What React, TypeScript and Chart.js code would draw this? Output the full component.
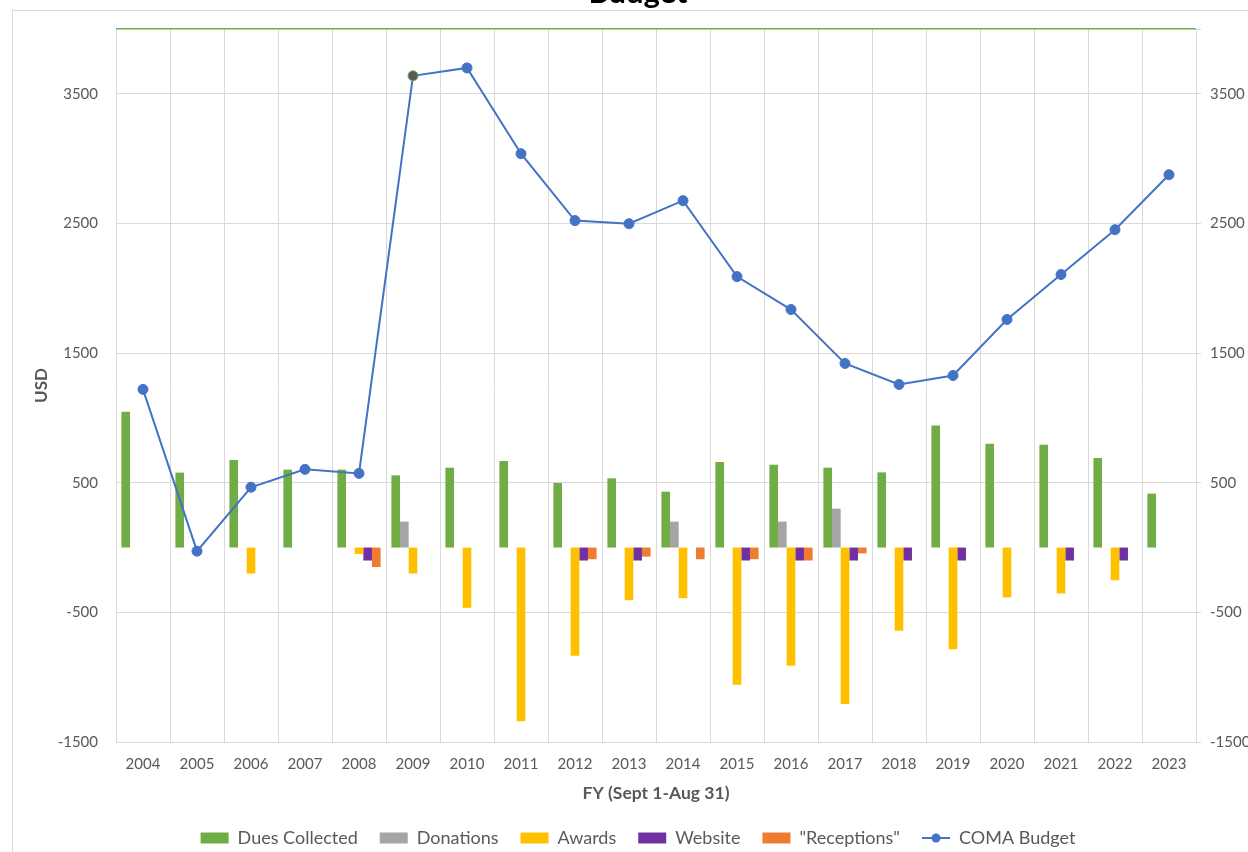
import React, { useEffect, useRef } from 'react';
import { Chart, registerables } from 'chart.js';

Chart.register(...registerables);

const years = ['2004', '2005', '2006', '2007', '2008', '2009', '2010', '2011', '2012', '2013', '2014', '2015', '2016', '2017', '2018', '2019', '2020', '2021', '2022', '2023'];
const duesCollected = [1047, 578, 675, 601, 601, 557, 616, 667, 498, 534, 431, 660, 639, 616, 580, 942, 801, 793, 690, 416];
const donations = [null, null, null, null, null, 200, null, null, null, null, 200, null, 200, 300, null, null, null, null, null, null];
const awards = [null, null, -200, null, -50, -200, -465, -1340, -835, -406, -391, -1058, -912, -1207, -642, -784, -385, -354, -252, null];
const website = [null, null, null, null, -100, null, null, null, -100, -100, null, -100, -100, -100, -100, -100, null, -100, -100, null];
const receptions = [null, null, null, null, -150, null, null, null, -90, -70, -90, -90, -100, -45, null, null, null, null, null, null];
const comaBudget = [1220, -28, 465, 603, 572, 3639, 3700, 3038, 2522, 2498, 2676, 2090, 1836, 1420, 1258, 1327, 1759, 2106, 2452, 2876];
const yTickValues = [-1500, -500, 500, 1500, 2500, 3500, 4000];
const Y_MIN = -1500;
const Y_MAX = 4000;

const GRID = '#d9d9d9';
const TEXT = '#595959';
const FONT = 'Lato, "Open Sans", sans-serif';

export default function App() {
  const ref = useRef<HTMLCanvasElement | null>(null);

  useEffect(() => {
    if (!ref.current) return;
    Chart.defaults.font.family = FONT;

    const icon = document.createElement('canvas');
    icon.width = 28;
    icon.height = 12;
    const ic = icon.getContext('2d');
    if (ic) {
      ic.strokeStyle = '#4472C4';
      ic.lineWidth = 2;
      ic.beginPath();
      ic.moveTo(0, 6);
      ic.lineTo(28, 6);
      ic.stroke();
      ic.fillStyle = '#4472C4';
      ic.beginPath();
      ic.arc(14, 6, 4.5, 0, Math.PI * 2);
      ic.fill();
    }

    const setTicks = (s: any) => {
      s.ticks = yTickValues.map((v) => ({ value: v }));
    };
    const tickLabel = (v: any) => (v === Y_MAX ? '' : String(v));

    const bar = (label: string, data: (number | null)[], color: string) => ({
      type: 'bar' as const,
      label,
      data,
      backgroundColor: color,
      borderWidth: 0,
      categoryPercentage: 0.8,
      barPercentage: 1.0,
      yAxisID: 'y',
      order: 1,
    });

    const chart = new Chart(ref.current, {
      type: 'bar',
      data: {
        labels: years,
        datasets: [
          bar('Dues Collected', duesCollected, '#70AD47'),
          bar('Donations', donations, '#A5A5A5'),
          bar('Awards', awards, '#FFC000'),
          bar('Website', website, '#7030A0'),
          bar('"Receptions"', receptions, '#ED7D31'),
          {
            type: 'line' as const,
            label: 'COMA Budget',
            data: comaBudget,
            borderColor: '#4472C4',
            borderWidth: 2,
            tension: 0,
            pointStyle: 'circle',
            pointRadius: 5,
            pointBorderWidth: 1,
            pointBackgroundColor: comaBudget.map((_, i) => (i === 5 ? '#595959' : '#4472C4')),
            pointBorderColor: comaBudget.map((_, i) => (i === 5 ? '#70AD47' : '#4472C4')),
            yAxisID: 'y2',
            order: 0,
          } as any,
        ],
      },
      options: {
        responsive: false,
        animation: false,
        layout: { padding: 0 },
        plugins: {
          tooltip: { enabled: false },
          title: {
            display: true,
            text: 'Budget',
            color: '#000000',
            font: { size: 31, weight: 'bold', family: FONT },
            padding: { top: 0, bottom: 17.8 },
          },
          legend: {
            position: 'bottom',
            labels: {
              usePointStyle: true,
              pointStyleWidth: 28,
              boxHeight: 11,
              padding: 22,
              color: TEXT,
              font: { size: 18, family: FONT },
              sort: (a: any, b: any) => a.datasetIndex - b.datasetIndex,
              generateLabels: (c: any) => {
                const items = Chart.defaults.plugins.legend.labels.generateLabels(c);
                return items.map((it: any) => {
                  if (it.datasetIndex === 5) {
                    return { ...it, pointStyle: icon, lineWidth: 0 };
                  }
                  return { ...it, pointStyle: 'rect', lineWidth: 0 };
                });
              },
            },
          },
        },
        scales: {
          x: {
            offset: true,
            grid: { color: GRID, drawTicks: false, offset: true },
            border: { display: false },
            ticks: { color: TEXT, font: { size: 15 }, padding: 13, maxRotation: 0, autoSkip: false },
            title: {
              display: true,
              text: 'FY (Sept 1-Aug 31)',
              color: TEXT,
              font: { size: 17.5, weight: 'bold' },
              padding: { top: 0, bottom: 3.5 },
            },
            afterFit: (s: any) => {
              s.height = 65;
            },
          },
          y: {
            position: 'left',
            min: Y_MIN,
            max: Y_MAX,
            afterBuildTicks: setTicks,
            ticks: { color: TEXT, font: { size: 15 }, padding: 18, callback: tickLabel },
            grid: {
              drawTicks: false,
              color: (ctx: any) => (ctx.tick && ctx.tick.value === Y_MAX ? '#70AD47' : GRID),
              lineWidth: (ctx: any) => (ctx.tick && ctx.tick.value === Y_MAX ? 1.5 : 1),
            },
            border: { display: false },
            title: {
              display: true,
              text: 'USD',
              color: TEXT,
              font: { size: 17, weight: 'bold' },
              padding: { top: 19.8, bottom: 0 },
            },
            afterFit: (s: any) => {
              s.width = 104;
            },
          },
          y2: {
            position: 'right',
            min: Y_MIN,
            max: Y_MAX,
            afterBuildTicks: setTicks,
            ticks: { color: TEXT, font: { size: 15 }, padding: 9, callback: tickLabel },
            grid: { drawOnChartArea: false, drawTicks: true, tickLength: 5, color: GRID },
            border: { display: false },
            afterFit: (s: any) => {
              s.width = 68;
            },
          },
        },
      } as any,
    });

    return () => chart.destroy();
  }, []);

  return (
    <div style={{ position: 'fixed', left: 0, top: 0, width: 1248, height: 852, overflow: 'hidden', background: '#ffffff' }}>
      <div
        style={{
          position: 'absolute',
          left: 12,
          top: 10,
          width: 1300,
          height: 900,
          border: '1px solid #d9d9d9',
          boxSizing: 'border-box',
        }}
      />
      <div style={{ position: 'absolute', left: 12, top: -26, width: 1252, height: 883 }}>
        <canvas ref={ref} width={1252} height={883} style={{ display: 'block' }} />
      </div>
    </div>
  );
}
